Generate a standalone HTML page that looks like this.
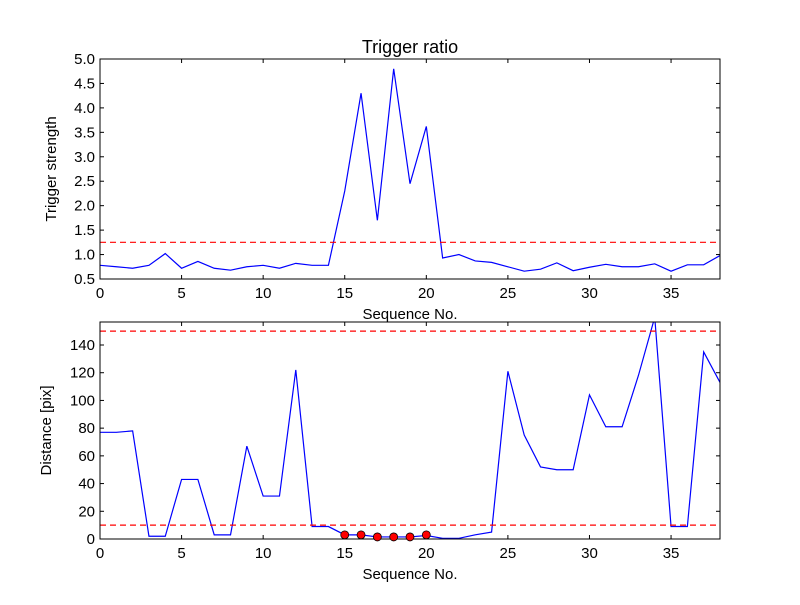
<!DOCTYPE html>
<html><head><meta charset="utf-8"><style>body{margin:0;background:#fff}svg{font-family:"Liberation Sans","DejaVu Sans",sans-serif}</style></head>
<body>
<svg id="c" width="800" height="600"></svg>
<script>
const xs=[...Array(39).keys()];
const strength=[0.78,0.75,0.72,0.78,1.02,0.72,0.86,0.72,0.68,0.75,0.78,0.72,0.82,0.78,0.78,2.3,4.3,1.7,4.8,2.45,3.62,0.93,1.0,0.87,0.84,0.75,0.66,0.7,0.83,0.67,0.74,0.8,0.75,0.75,0.81,0.66,0.79,0.79,0.98];
const distance=[77,77,78,2,2,43,43,3,3,67,31,31,122,9,9,3,3,1.5,1.5,1.5,2.5,0.5,0.5,3,5,121,75,52,50,50,104,81,81,118,160,9,9,135,113];
const markIdx=[15,16,17,18,19,20];
const markVals=[3,3,1.5,1.5,1.5,3];
const topTicks=[0.5,1.0,1.5,2.0,2.5,3.0,3.5,4.0,4.5,5.0];
const botTicks=[0,20,40,60,80,100,120,140];
const xTicks=[0,5,10,15,20,25,30,35];
const topThresh=[1.25];
const botThresh=[10,150];
const NS="http://www.w3.org/2000/svg",svg=document.getElementById('c');
function mk(t,a,p){const e=document.createElementNS(NS,t);for(const k in a)e.setAttribute(k,a[k]);(p||svg).appendChild(e);return e;}
function panel(name,top,bot,ymin,ymax,data,ticks,thr,fmt,ylabel,title){
 const L=100,R=720;const X=v=>L+(v-0)/38*(R-L);const Y=v=>bot-(v-ymin)/(ymax-ymin)*(bot-top);
 const g=mk('g',{});
 const cp='cp'+name;const d=mk('defs',{},g);const c=mk('clipPath',{id:cp},d);mk('rect',{x:L,y:top,width:R-L,height:bot-top},c);
 const pl=mk('polyline',{points:data.map((v,i)=>X(xs[i])+','+Y(v)).join(' '),fill:'none',stroke:'#0000ff','stroke-width':1.2,'clip-path':`url(#${cp})`},g);
 
 thr.forEach(t=>{const l=mk('line',{x1:L,x2:R,y1:Y(t),y2:Y(t),stroke:'#ff0000','stroke-width':1.2,'stroke-dasharray':'6,4'},g);});
 mk('rect',{x:L,y:top,width:R-L,height:bot-top,fill:'none',stroke:'#000','stroke-width':1},g);
 ticks.forEach(t=>{const y=Y(t);mk('line',{x1:L,x2:L+4,y1:y,y2:y,stroke:'#000'},g);mk('line',{x1:R,x2:R-4,y1:y,y2:y,stroke:'#000'},g);
  const tx=mk('text',{x:L-5,y:y+5,'text-anchor':'end','font-size':15},g);tx.textContent=fmt(t);});
 xTicks.forEach(t=>{const x=X(t);mk('line',{x1:x,x2:x,y1:bot,y2:bot-4,stroke:'#000'},g);mk('line',{x1:x,x2:x,y1:top,y2:top+4,stroke:'#000'},g);
  const tx=mk('text',{x:x,y:bot+19,'text-anchor':'middle','font-size':15},g);tx.textContent=t;});
 const xl=mk('text',{x:(L+R)/2,y:bot+40,'text-anchor':'middle','font-size':15},g);xl.textContent='Sequence No.';
 const yl=mk('text',{x:0,y:0,'text-anchor':'middle','font-size':15,transform:`translate(${name=='top-panel'?56:51},${(top+bot)/2}) rotate(-90)`},g);yl.textContent=ylabel;
 if(title){const tt=mk('text',{x:(L+R)/2,y:top-6,'text-anchor':'middle','font-size':18},g);tt.textContent=title;}
 return {X,Y,g};
}
panel('top-panel',59,279,0.5,5.0,strength,topTicks,topThresh,v=>v.toFixed(1),'Trigger strength','Trigger ratio');
const b=panel('bottom-panel',322,539,0,156.6,distance,botTicks,botThresh,v=>v,'Distance [pix]',null);
markIdx.forEach((i,k)=>{const m=mk('circle',{cx:b.X(i),cy:b.Y(markVals[k]),r:4,fill:'#ff0000',stroke:'#000','stroke-width':0.8},b.g);});
</script>
</body></html>
